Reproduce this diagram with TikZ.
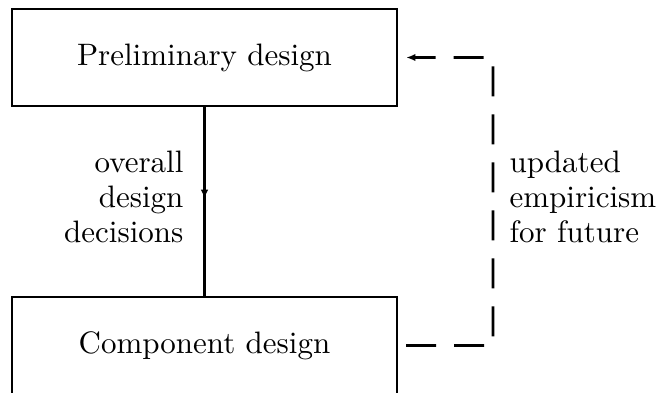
\documentclass[tikz,border=0pt]{standalone}
\usetikzlibrary{positioning}
\usetikzlibrary{arrows.meta}

\begin{document}
\begin{tikzpicture}[x=0.3226pt, y=-0.3226pt]
  \tikzstyle{block}=[rectangle, draw = black, line width = 0.9pt, minimum width = 124.2pt, minimum height = 31.3pt, inner sep = 0pt, node distance = 92.9pt]
  \tikzstyle{connect}=[-{Latex[length=3pt,width=2.4pt]}, line width = 0.9pt]
  \tikzstyle{feedback}=[connect, dash pattern = on 9.68pt off 5.81pt]
  \tikzstyle{note}=[font = \fontsize{10}{11.3}\selectfont, inner sep = 0pt]

  \useasboundingbox (0,0) rectangle (661,392);

  \node[block] (pre) at (204.5,57.5) {Preliminary design};
  \node[block] (comp) [below of = pre] {Component design};

  \coordinate (mid) at (204.5,199);
  \coordinate (cb) at (493,345.5);
  \coordinate (ct) at (493,57.5);

  \node[note, align = right, anchor = east] (why) at (184,197) {overall\\design\\decisions};
  \node[note, align = left, anchor = west] (upd) at (509,197) {updated\\empiricism\\for future};

  \draw[line width = 0.9pt] (pre) -- (comp);
  \draw[connect] (pre) -- (mid);

  \draw[feedback] ([xshift=2.5pt]comp.east) -- (cb) -- (ct) -- ([xshift=2.5pt]pre.east);

\end{tikzpicture}
\end{document}
